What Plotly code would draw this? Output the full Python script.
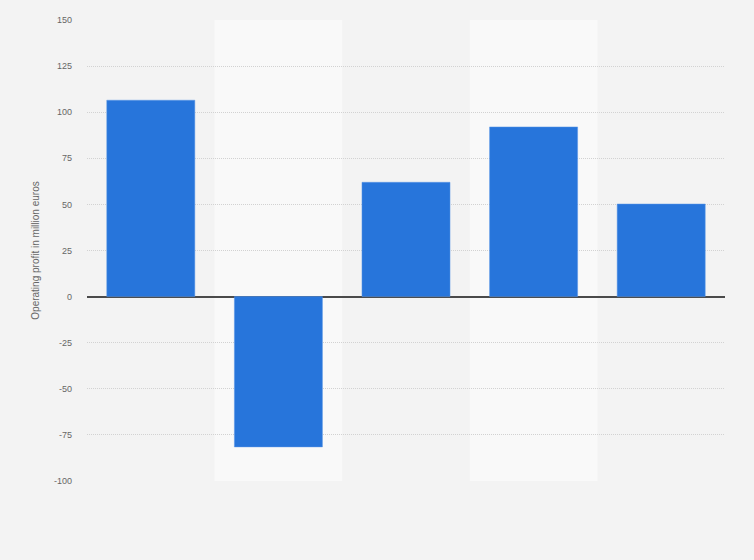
import plotly.graph_objects as go

categories = ["2017", "2018", "2019", "2020", "2021"]
values = [106.5, -81.5, 62, 92, 50.2]
y_ticks = [-100, -75, -50, -25, 0, 25, 50, 75, 100, 125, 150]

fig = go.Figure()
fig.add_trace(go.Bar(
    x=categories, y=values,
    marker=dict(color="#2775db", line=dict(color="#5a96e6", width=0.5)),
    width=0.69,
))

shapes = []
for i in range(len(categories)):
    if i % 2 == 1:
        shapes.append(dict(type="rect", xref="x", yref="paper",
                           x0=i - 0.5, x1=i + 0.5, y0=0, y1=1,
                           fillcolor="#f9f9f9", line=dict(width=0), layer="below"))

fig.update_layout(
    width=754, height=560,
    paper_bgcolor="#f3f3f3", plot_bgcolor="#f3f3f3",
    margin=dict(l=87, r=29, t=20, b=79),
    showlegend=False,
    shapes=shapes,
    font=dict(family="Liberation Sans, Arial, sans-serif", color="#666666"),
    xaxis=dict(showticklabels=False, showgrid=False, zeroline=False,
               range=[-0.5, len(categories) - 0.5]),
    yaxis=dict(range=[-100, 150], tickvals=y_ticks,
               ticktext=[str(v) for v in y_ticks],
               showgrid=True, gridcolor="#d2d2d2", griddash="1px,1px", gridwidth=1,
               zeroline=True, zerolinecolor="#4a4a4a", zerolinewidth=1.5,
               tickfont=dict(size=9, color="#666666"), ticks="",
               ticklabelstandoff=14,
               title=dict(text="Operating profit in million euros",
                          font=dict(size=10, color="#666666"), standoff=12)),
)

fig.write_html("out.html",
               config={"displayModeBar": False},
               post_script="document.body.style.margin='0';document.body.style.overflow='hidden';document.body.style.background='#f3f3f3';")
